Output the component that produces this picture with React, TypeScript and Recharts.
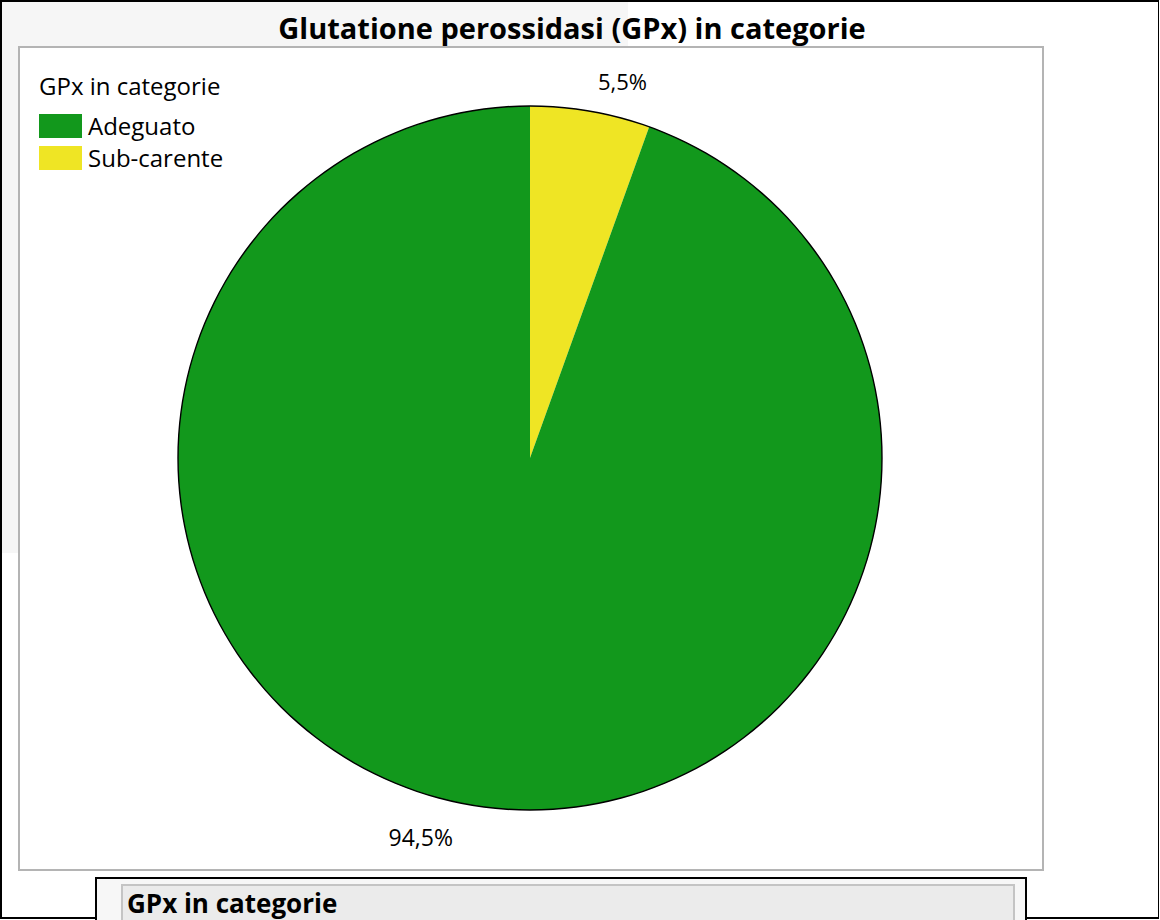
import React from "react";
import { PieChart, Pie, Cell } from "recharts";

const categories = ["Sub-carente", "Adeguato"];
const percentages = [5.5, 94.5];
const legendOrder = ["Adeguato", "Sub-carente"];
const colors: Record<string, string> = { Adeguato: "#12981c", "Sub-carente": "#efe524" };

const data = categories.map((name, i) => ({ name, value: percentages[i] }));
const ring = [{ name: "outline", value: 1 }];

const FONT = "'Open Sans', 'Noto Sans', sans-serif";
const RAD = Math.PI / 180;

const renderLabel = (props: any) => {
  const { cx, cy, midAngle, outerRadius, value } = props;
  const R = outerRadius + 32;
  const bx = cx + R * Math.cos(-midAngle * RAD);
  const by = cy + R * Math.sin(-midAngle * RAD);
  const right = bx > cx;
  const x = right ? bx + 2 : bx - 11;
  return (
    <text
      x={x}
      y={by + 1}
      textAnchor={right ? "start" : "end"}
      dominantBaseline="central"
      fontFamily={FONT}
      fontSize={right ? 22 : 23}
      fill="#000"
    >
      {String(value).replace(".", ",") + "%"}
    </text>
  );
};

export default function App() {
  return (
    <div style={{ position: "absolute", left: 0, top: 0, width: 1160, height: 920, overflow: "hidden", background: "#fff", fontFamily: FONT }}>
      {/* light background patch */}
      <div style={{ position: "absolute", left: 0, top: 0, width: 628, height: 553, background: "#f6f6f6" }} />
      {/* outer frame */}
      <div style={{ position: "absolute", left: 0, top: 0, width: 1159, height: 919, boxSizing: "border-box", border: "2px solid #000", borderRightWidth: 1 }} />
      {/* plot box */}
      <div style={{ position: "absolute", left: 18, top: 46, width: 1026, height: 825, boxSizing: "border-box", border: "2px solid #b4b4b4", background: "#fff" }} />
      {/* title */}
      <div style={{ position: "absolute", left: 0, top: 8, width: 1144, textAlign: "center", fontSize: 29, fontWeight: 700, lineHeight: "40px", color: "#000" }}>
        Glutatione perossidasi (GPx) in categorie
      </div>
      {/* legend */}
      <div style={{ position: "absolute", left: 39, top: 70, fontSize: 24, lineHeight: "32px", color: "#000" }}>GPx in categorie</div>
      {legendOrder.map((name, i) => (
        <div key={name} style={{ position: "absolute", left: 39, top: 114 + i * 32, height: 24, display: "flex", alignItems: "center" }}>
          <div style={{ width: 43, height: 24, background: colors[name] }} />
          <span style={{ marginLeft: 6, fontSize: 24, lineHeight: "24px", color: "#000" }}>{name}</span>
        </div>
      ))}
      {/* bottom table box */}
      <div style={{ position: "absolute", left: 95, top: 877, width: 932, height: 60, boxSizing: "border-box", border: "2px solid #000", background: "#f7f7f7" }} />
      <div style={{ position: "absolute", left: 121, top: 884, width: 894, height: 50, boxSizing: "border-box", border: "2px solid #c4c4c4", background: "#ebebeb" }} />
      <div style={{ position: "absolute", left: 127, top: 884, fontSize: 26, fontWeight: 700, lineHeight: "38px", color: "#000" }}>GPx in categorie</div>
      {/* chart */}
      <div style={{ position: "absolute", left: 0, top: 0 }}>
        <PieChart width={1160} height={920} margin={{ top: 0, right: 0, bottom: 0, left: 0 }} style={{ background: "transparent" }}>
          <Pie
            data={data}
            dataKey="value"
            nameKey="name"
            cx={530}
            cy={458}
            outerRadius={352}
            startAngle={90}
            endAngle={-270}
            stroke="none"
            label={renderLabel}
            labelLine={false}
            isAnimationActive={false}
          >
            {data.map((d) => (
              <Cell key={d.name} fill={colors[d.name]} stroke="none" />
            ))}
          </Pie>
          <Pie
            data={ring}
            dataKey="value"
            cx={530}
            cy={458}
            innerRadius={351.3}
            outerRadius={352.7}
            startAngle={90}
            endAngle={-270}
            fill="#000"
            stroke="none"
            isAnimationActive={false}
          />
        </PieChart>
      </div>
    </div>
  );
}
